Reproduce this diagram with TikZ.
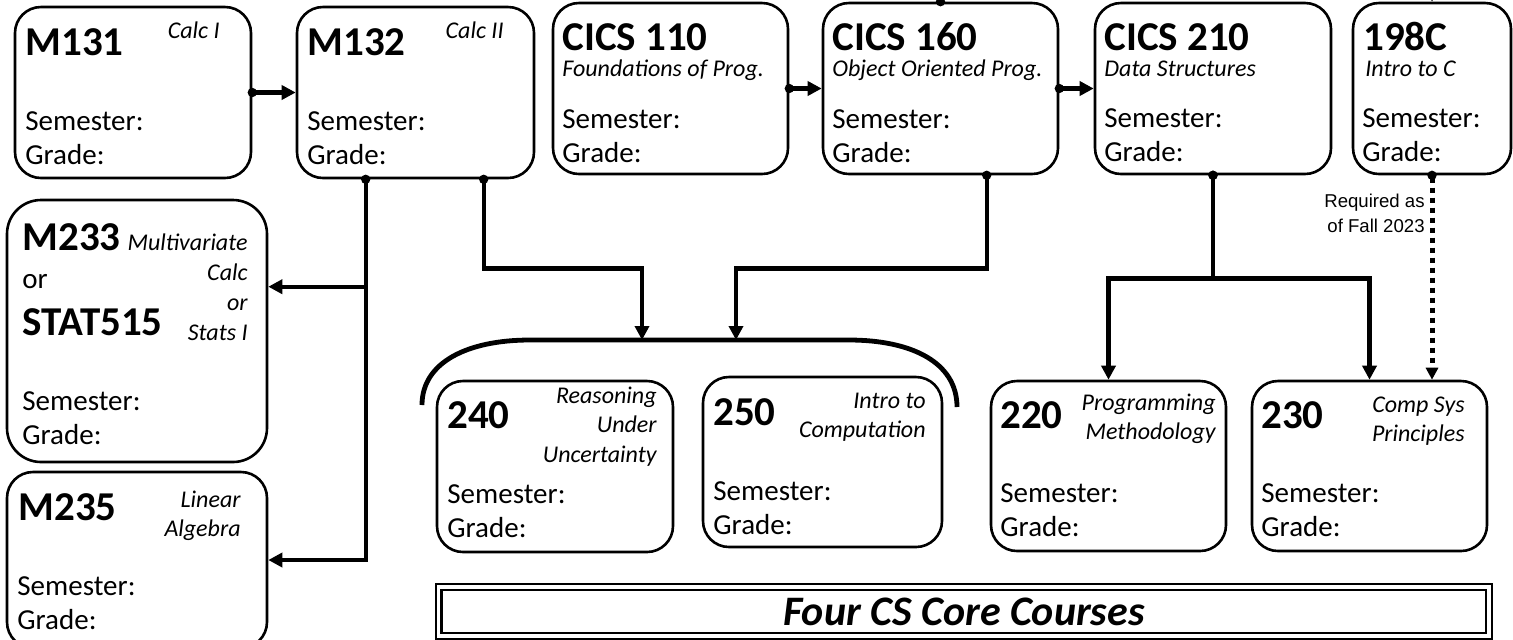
\documentclass[tikz,border=0pt]{standalone}
\usepackage{fontspec}
\setmainfont{Carlito}
\newfontfamily\notefont{Liberation Sans}
\usetikzlibrary{arrows.meta,fit,calc}
\newcommand{\lcol}[1]{\begin{tabular}[t]{@{}l@{}}#1\end{tabular}}
\newcommand{\rcol}[1]{\begin{tabular}[t]{@{}r@{}}#1\end{tabular}}

\begin{document}
\begin{tikzpicture}
  [x=0.5pt,y=-0.5pt,
   course/.style={draw,rounded corners=13pt,line width=1.3pt,inner sep=0pt},
   code/.style={anchor=base west,inner sep=0pt,font=\fontsize{20.5}{24}\selectfont\bfseries},
   subtitle/.style={anchor=base east,inner sep=0pt,font=\fontsize{12}{14.75}\selectfont\itshape},
   info/.style={anchor=base west,inner sep=0pt,font=\fontsize{14.5}{17}\selectfont},
   conn/.style={line width=2.2pt,{Circle[length=4.5pt]}-{Triangle[length=7pt,width=7pt]},shorten <=-2.25pt},
   feed/.style={line width=2.2pt,-{Triangle[length=7pt,width=7pt]}},
   dots/.style={line width=2.5pt,dash pattern=on 2.5pt off 2.5pt,{Circle[length=4.5pt]}-{Triangle[length=6pt,width=6pt]},shorten <=-2.25pt}]
\useasboundingbox (0,0) rectangle (1513,639); % adjust bounding box
% top row
\node (m131) [course,fit={(15,7) (251,178)}] {};
\node at (25,55) (m131c) [code] {M131};
\node at (220,38) (m131t) [subtitle] {Calc I};
\node at (25,130) (m131s) [info] {\lcol{Semester:\\Grade:}};
\node (m132) [course,fit={(297,7) (534,178)}] {};
\node at (307,55) (m132c) [code] {M132};
\node at (504,38) (m132t) [subtitle] {Calc II};
\node at (307,130) (m132s) [info] {\lcol{Semester:\\Grade:}};
\node (m110) [course,fit={(553,3) (788,174)}] {};
\node at (562,50) (m110c) [code] {CICS 110};
\node at (562,76) (m110t) [subtitle,anchor=base west] {Foundations of Prog.};
\node at (562,128) (m110s) [info] {\lcol{Semester:\\Grade:}};
\node (m160) [course,fit={(823,3) (1058,174)}] {};
\node at (832,50) (m160c) [code] {CICS 160};
\node at (832,76) (m160t) [subtitle,anchor=base west] {Object Oriented Prog.};
\node at (832,128) (m160s) [info] {\lcol{Semester:\\Grade:}};
\node (m210) [course,fit={(1095,3) (1331,174)}] {};
\node at (1104,50) (m210c) [code] {CICS 210};
\node at (1104,76) (m210t) [subtitle,anchor=base west] {Data Structures};
\node at (1104,127) (m210s) [info] {\lcol{Semester:\\Grade:}};
\node (m198) [course,fit={(1353,3) (1511,174)}] {};
\node at (1363,50) (m198c) [code] {198C};
\node at (1365,76) (m198t) [subtitle,anchor=base west] {Intro to C};
\node at (1362,127) (m198s) [info] {\lcol{Semester:\\Grade:}};
%
\node (m233) [course,rounded corners=17pt,fit={(7,200) (267,462)}] {};
\node at (22,250) (m233c) [code] {M233};
\node at (22,288) (m233o) [info] {or};
\node at (22,335) (m515c) [code] {STAT515};
\node at (248,250) (m233t) [subtitle,font=\fontsize{12}{15}\selectfont\itshape] {\rcol{Multivariate\\Calc\\or\\Stats I}};
\node at (22,410) (m233s) [info] {\lcol{Semester:\\Grade:}};
\node (m235) [course,fit={(7,472) (267,648)}] {};
\node at (18,520) (m235c) [code] {M235};
\node at (241,507) (m235t) [subtitle] {\rcol{Linear\\Algebra}};
\node at (17,595) (m235s) [info] {\lcol{Semester:\\Grade:}};
% core courses
\node (m240) [course,fit={(437,381) (673,552)}] {};
\node at (447,428) (m240c) [code] {240};
\node at (657,403) (m240t) [subtitle] {\rcol{Reasoning\\Under\\Uncertainty}};
\node at (447,503) (m240s) [info] {\lcol{Semester:\\Grade:}};
\node (m250) [course,fit={(703,377) (942,547)}] {};
\node at (713,425) (m250c) [code] {250};
\node at (926,408) (m250t) [subtitle] {\rcol{Intro to\\Computation}};
\node at (713,500) (m250s) [info] {\lcol{Semester:\\Grade:}};
\node (m220) [course,fit={(991,381) (1226,551)}] {};
\node at (1000,428) (m220c) [code] {220};
\node at (1216,410) (m220t) [subtitle] {\rcol{Programming\\Methodology}};
\node at (1000,502) (m220s) [info] {\lcol{Semester:\\Grade:}};
\node (m230) [course,fit={(1252,381) (1487,551)}] {};
\node at (1261,428) (m230c) [code] {230};
\node at (1465,412) (m230t) [subtitle] {\rcol{Comp Sys\\Principles}};
\node at (1261,502) (m230s) [info] {\lcol{Semester:\\Grade:}};
%
\node (core) [draw,double,line width=1.2pt,double distance=1.6pt,inner sep=0pt,fit={(438.5,587) (1489,636)}] {};
\node at (964,625) (coret) [anchor=base,inner sep=0pt,font=\fontsize{21}{24}\selectfont\bfseries\itshape] {Four CS Core Courses};
\node at (1425,207) (req) [anchor=base east,inner sep=0pt,font=\notefont\fontsize{9.3}{12.5}\selectfont] {\rcol{Required as\\of Fall 2023}};
% bracket over 240 and 250
\draw [line width=2.4pt] (422,405) .. controls (422,362) and (468,340) .. (530,340)
  -- (849,340) .. controls (911,340) and (957,362) .. (957,407);
\coordinate (core l) at (642,340);
\coordinate (core r) at (736,340);
\coordinate (m132l) at ($(m132.south west)+(70,0)$);
\coordinate (m233in) at ($(m233.north east)+(0,88)$);
%
\draw [conn] (m131.east) -- (m132.west);
\draw [conn] (m110.east) -- (m160.west);
\draw [conn] (m160.east) -- (m210.west);
\draw [conn] (m160.north) -- ++(0,-40) -| (m198.north);
%
\draw [conn] (m132l) |- (m235.east);
\draw [feed] (m132l |- m233in) -- (m233in);
\draw [conn] ($(m132.south west)+(188,0)$) -- ++(0,89) -| (core l);
\draw [conn] ($(m160.south west)+(165,0)$) -- ++(0,93) -| (core r);
\draw [conn] (m210.south) -- ++(0,103) -| (m220.north);
\draw [conn] (m210.south) -- ++(0,103) -| (m230.north);
\draw [dots] (m198.south) -- (m198.south |- m230.north);
\end{tikzpicture}
\end{document}
